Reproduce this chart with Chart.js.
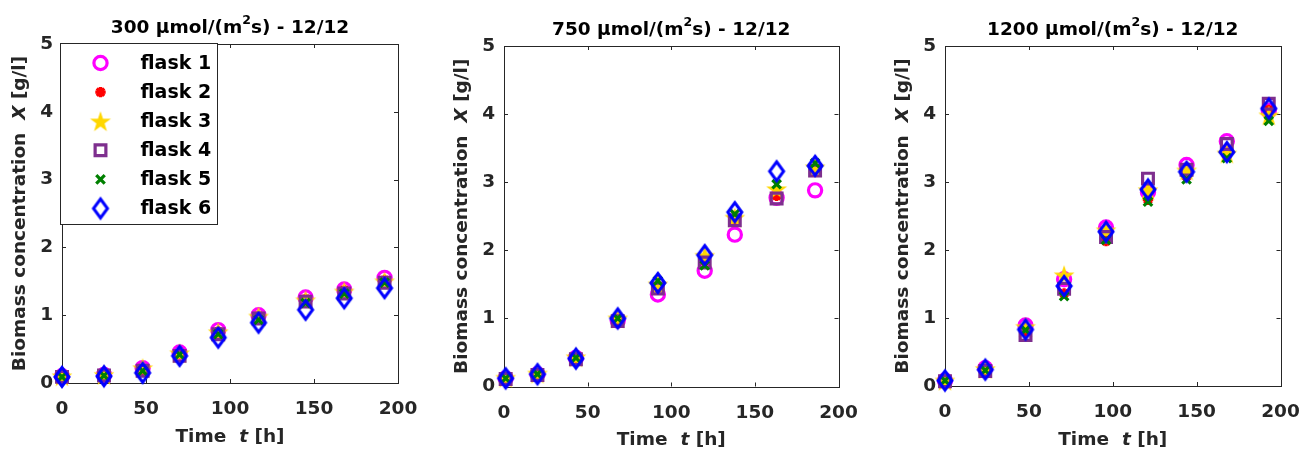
<!DOCTYPE html>
<html>
<head>
<meta charset="utf-8">
<script src="https://cdn.jsdelivr.net/npm/chart.js@4/dist/chart.umd.min.js"></script>
<style>
  html, body { margin: 0; padding: 0; background: #fff; }
  #wrap { position: relative; width: 1301px; height: 452px; }
  #wrap canvas { position: absolute; top: 0; }
</style>
</head>
<body>
<div id="wrap">
  <canvas id="c300" width="430" height="452" style="left:0"></canvas>
  <canvas id="c750" width="440" height="452" style="left:430px"></canvas>
  <canvas id="c1200" width="431" height="452" style="left:870px"></canvas>
</div>
<script>
const flaskNames = ['flask 1', 'flask 2', 'flask 3', 'flask 4', 'flask 5', 'flask 6'];
const xTicks = [0, 50, 100, 150, 200];
const yTicks = [0, 1, 2, 3, 4, 5];

// 300 umol/(m2 s)
const time300 = [0, 25, 48, 70, 93, 117, 145, 168, 192];
const bio300_1 = [0.10, 0.12, 0.22, 0.45, 0.78, 1.00, 1.26, 1.38, 1.55];
const bio300_2 = [0.10, 0.12, 0.20, 0.43, 0.76, 0.99, 1.24, 1.37, 1.52];
const bio300_3 = [0.10, 0.12, 0.22, 0.44, 0.75, 0.98, 1.22, 1.35, 1.50];
const bio300_4 = [0.09, 0.11, 0.18, 0.40, 0.72, 0.95, 1.20, 1.32, 1.48];
const bio300_5 = [0.09, 0.11, 0.18, 0.42, 0.72, 0.93, 1.18, 1.32, 1.48];
const bio300_6 = [0.09, 0.10, 0.15, 0.40, 0.67, 0.89, 1.08, 1.25, 1.40];

// 750 umol/(m2 s)
const time750 = [1, 20, 43, 68, 92, 120, 138, 163, 186];
const bio750_1 = [0.12, 0.18, 0.42, 0.97, 1.35, 1.70, 2.23, 2.77, 2.88];
const bio750_2 = [0.12, 0.18, 0.41, 0.98, 1.45, 1.85, 2.45, 2.80, 3.20];
const bio750_3 = [0.13, 0.19, 0.43, 1.00, 1.50, 1.92, 2.48, 2.90, 3.22];
const bio750_4 = [0.11, 0.17, 0.40, 0.96, 1.44, 1.82, 2.44, 2.76, 3.17];
const bio750_5 = [0.12, 0.18, 0.42, 1.00, 1.55, 1.78, 2.53, 2.97, 3.28];
const bio750_6 = [0.12, 0.18, 0.41, 1.00, 1.52, 1.93, 2.56, 3.16, 3.24];

// 1200 umol/(m2 s)
const time1200 = [0, 24, 48, 71, 96, 121, 144, 168, 193];
const bio1200_1 = [0.08, 0.26, 0.89, 1.57, 2.33, 2.85, 3.25, 3.60, 4.05];
const bio1200_2 = [0.07, 0.24, 0.80, 1.36, 2.13, 2.74, 3.08, 3.40, 4.06];
const bio1200_3 = [0.08, 0.25, 0.87, 1.63, 2.29, 2.88, 3.17, 3.42, 3.98];
const bio1200_4 = [0.07, 0.22, 0.75, 1.43, 2.19, 3.05, 3.18, 3.56, 4.15];
const bio1200_5 = [0.08, 0.23, 0.82, 1.32, 2.15, 2.71, 3.04, 3.35, 3.90];
const bio1200_6 = [0.08, 0.24, 0.83, 1.47, 2.27, 2.89, 3.15, 3.44, 4.08];

const FONT = '"DejaVu Sans", sans-serif';
const FS = 18.5;
const axisColor = '#262626';

// marker images that Chart.js has no built-in style for
function makePentagram() {
    const c = document.createElement('canvas');
    c.width = 24; c.height = 24;
    const g = c.getContext('2d');
    g.fillStyle = '#FFD700';
    g.beginPath();
    for (let i = 0; i < 10; i++) {
        const r = i % 2 ? 4.3 : 11;
        const a = -Math.PI / 2 + i * Math.PI / 5;
        g.lineTo(12 + r * Math.cos(a), 13 + r * Math.sin(a));
    }
    g.closePath();
    g.fill();
    return c;
}
function makeDiamond() {
    const c = document.createElement('canvas');
    c.width = 22; c.height = 28;
    const g = c.getContext('2d');
    g.strokeStyle = '#0000FF';
    g.lineWidth = 3;
    g.beginPath();
    g.moveTo(11, 4.5); g.lineTo(18, 14); g.lineTo(11, 23.5); g.lineTo(4, 14);
    g.closePath();
    g.stroke();
    return c;
}
const pentagram = makePentagram();
const diamond = makeDiamond();

const markers = [
    { pointStyle: 'circle', pointRadius: 6.6, pointBorderColor: '#FF00FF', pointBackgroundColor: 'rgba(0,0,0,0)', pointBorderWidth: 3.2 },
    { pointStyle: 'star', pointRadius: 5.2, pointBorderColor: '#FF0000', pointBackgroundColor: '#FF0000', pointBorderWidth: 3.2 },
    { pointStyle: pentagram, pointRadius: 11, pointBorderColor: '#FFD700', pointBackgroundColor: '#FFD700', pointBorderWidth: 0 },
    { pointStyle: 'rect', pointRadius: 7.6, pointBorderColor: '#7E2F8E', pointBackgroundColor: 'rgba(0,0,0,0)', pointBorderWidth: 3.2 },
    { pointStyle: 'crossRot', pointRadius: 6, pointBorderColor: '#008000', pointBackgroundColor: '#008000', pointBorderWidth: 3.2 },
    { pointStyle: diamond, pointRadius: 10, pointBorderColor: '#0000FF', pointBackgroundColor: 'rgba(0,0,0,0)', pointBorderWidth: 0 }
];

function drawRich(ctx, parts, x, y) {
    let total = 0;
    parts.forEach(p => { ctx.font = p.f; p.w = ctx.measureText(p.t).width; total += p.w; });
    let cx = x - total / 2;
    ctx.textAlign = 'left';
    ctx.textBaseline = 'middle';
    parts.forEach(p => { ctx.font = p.f; ctx.fillText(p.t, cx, y + (p.dy || 0)); cx += p.w; });
}

const bold = 'bold ' + FS + 'px ' + FONT;
const boldItalic = 'italic bold ' + FS + 'px ' + FONT;

// box, inward ticks, title and axis labels
const frame = {
    id: 'frame',
    beforeDatasetsDraw(chart) {
        const { ctx, chartArea: a, scales: { x, y } } = chart;
        ctx.save();
        ctx.strokeStyle = axisColor;
        ctx.lineWidth = 1;
        ctx.strokeRect(Math.round(a.left) + 0.5, Math.round(a.top) + 0.5, Math.round(a.right - a.left), Math.round(a.bottom - a.top));
        ctx.beginPath();
        xTicks.forEach(v => {
            const px = Math.round(x.getPixelForValue(v)) + 0.5;
            ctx.moveTo(px, a.bottom); ctx.lineTo(px, a.bottom - 4);
            ctx.moveTo(px, a.top); ctx.lineTo(px, a.top + 4);
        });
        yTicks.forEach(v => {
            const py = Math.round(y.getPixelForValue(v)) + 0.5;
            ctx.moveTo(a.left, py); ctx.lineTo(a.left + 4, py);
            ctx.moveTo(a.right, py); ctx.lineTo(a.right - 4, py);
        });
        ctx.stroke();
        ctx.restore();
    },
    afterDraw(chart, args, opts) {
        const { ctx, chartArea: a } = chart;
        const cx = (a.left + a.right) / 2;
        ctx.save();
        ctx.fillStyle = '#000';
        drawRich(ctx, [
            { t: opts.light + ' \u03bcmol/(m', f: bold },
            { t: '2', f: 'bold 12.5px ' + FONT, dy: -7 },
            { t: 's) - 12/12', f: bold }
        ], cx, a.top - 16);
        ctx.fillStyle = axisColor;
        drawRich(ctx, [
            { t: 'Time  ', f: bold },
            { t: 't', f: boldItalic },
            { t: ' [h]', f: bold }
        ], cx, a.bottom + 54);
        ctx.translate(a.left - 42, (a.top + a.bottom) / 2);
        ctx.rotate(-Math.PI / 2);
        drawRich(ctx, [
            { t: 'Biomass concentration  ', f: bold },
            { t: 'X', f: boldItalic },
            { t: ' [g/l]', f: bold }
        ], 0, 0);
        ctx.restore();

        if (opts.legend) {
            const bx = Math.round(a.left) - 1.5, by = Math.round(a.top) - 0.5;
            ctx.save();
            ctx.fillStyle = '#fff';
            ctx.fillRect(bx, by, 157, 181);
            ctx.strokeStyle = axisColor;
            ctx.lineWidth = 1;
            ctx.strokeRect(bx, by, 157, 181);
            markers.forEach((m, i) => {
                const ly = by + 19.5 + i * 29.1;
                ctx.save();
                ctx.strokeStyle = m.pointBorderColor;
                ctx.fillStyle = m.pointBackgroundColor;
                ctx.lineWidth = m.pointBorderWidth;
                Chart.helpers.drawPoint(ctx, { pointStyle: m.pointStyle, radius: m.pointRadius, rotation: 0, borderWidth: m.pointBorderWidth }, bx + 40, ly);
                ctx.restore();
                ctx.fillStyle = '#000';
                ctx.font = 'bold 19px ' + FONT;
                ctx.textAlign = 'left';
                ctx.textBaseline = 'middle';
                ctx.fillText(flaskNames[i], bx + 80, ly + 1);
            });
            ctx.restore();
        }
    }
};

function makeChart(id, light, times, series, geo, legend) {
    const datasets = series.map((vals, i) => Object.assign({
        label: flaskNames[i],
        data: times.map((t, j) => ({ x: t, y: vals[j] })),
        showLine: false,
        clip: false,
        order: series.length - i,
        pointHoverRadius: markers[i].pointRadius
    }, markers[i]));

    const tickFont = { family: FONT, weight: 'bold', size: FS };
    new Chart(document.getElementById(id), {
        type: 'scatter',
        data: { datasets: datasets },
        options: {
            responsive: false,
            animation: false,
            events: [],
            layout: { padding: { left: 0, right: geo.padR, top: geo.padT, bottom: 0 } },
            plugins: {
                legend: { display: false },
                tooltip: { enabled: false },
                frame: { light: light, legend: legend }
            },
            scales: {
                x: {
                    type: 'linear', min: 0, max: 200,
                    afterFit: s => { s.height = geo.xH; s.paddingLeft = 0; s.paddingRight = 0; },
                    afterBuildTicks: s => { s.ticks = xTicks.map(v => ({ value: v })); },
                    grid: { display: false, drawTicks: false },
                    border: { display: false },
                    ticks: { padding: 15.5, color: axisColor, font: tickFont, maxRotation: 0, autoSkip: false }
                },
                y: {
                    type: 'linear', min: 0, max: 5,
                    afterFit: s => { s.width = geo.yW; s.paddingTop = 0; s.paddingBottom = 0; },
                    afterBuildTicks: s => { s.ticks = yTicks.map(v => ({ value: v })); },
                    grid: { display: false, drawTicks: false },
                    border: { display: false },
                    ticks: { padding: 9, color: axisColor, font: tickFont, autoSkip: false }
                }
            }
        },
        plugins: [frame]
    });
}

makeChart('c300', '300', time300,
    [bio300_1, bio300_2, bio300_3, bio300_4, bio300_5, bio300_6],
    { yW: 62, xH: 69, padT: 44, padR: 32 }, true);
makeChart('c750', '750', time750,
    [bio750_1, bio750_2, bio750_3, bio750_4, bio750_5, bio750_6],
    { yW: 74, xH: 65.5, padT: 46, padR: 31.5 }, false);
makeChart('c1200', '1200', time1200,
    [bio1200_1, bio1200_2, bio1200_3, bio1200_4, bio1200_5, bio1200_6],
    { yW: 75, xH: 66, padT: 46, padR: 20.5 }, false);
</script>
</body>
</html>
